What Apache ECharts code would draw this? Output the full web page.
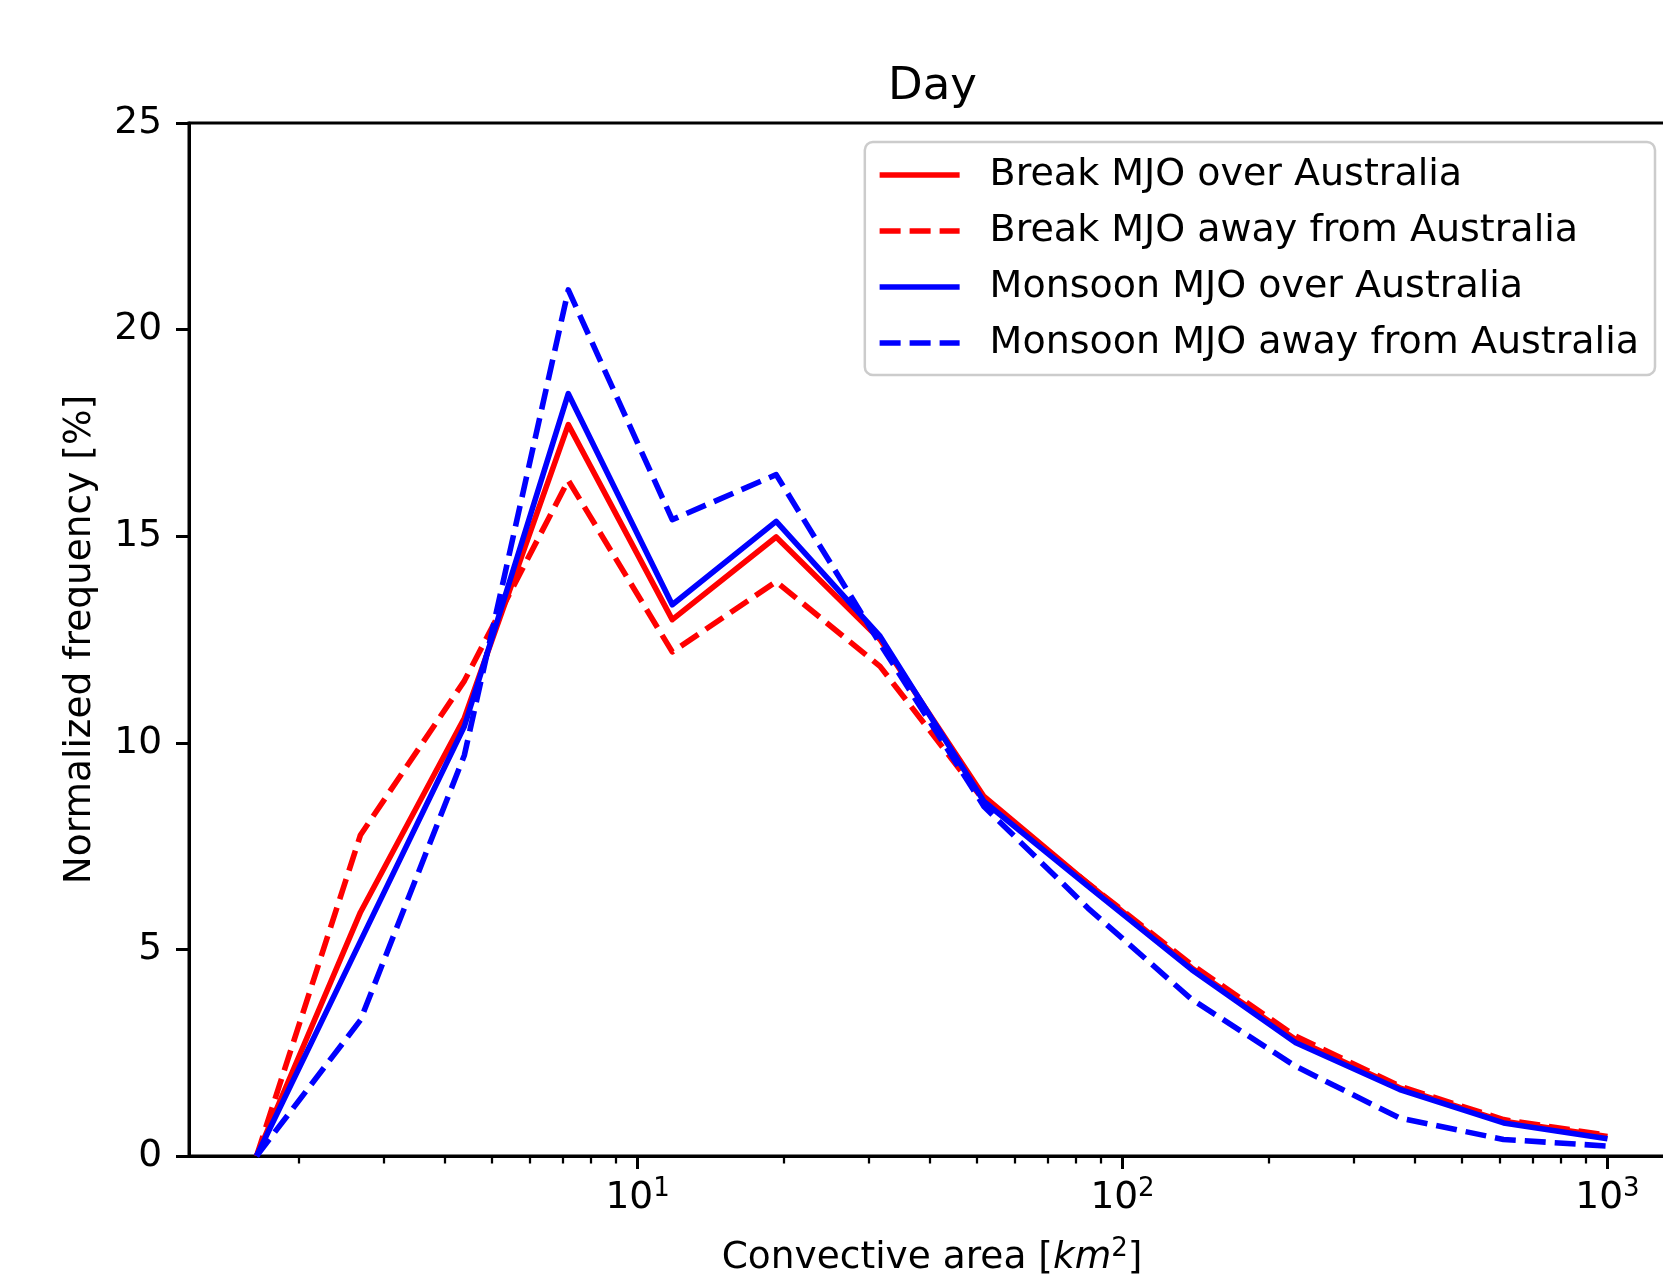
<!DOCTYPE html>
<html>
<head>
<meta charset="utf-8">
<script src="https://cdn.jsdelivr.net/npm/echarts@6/dist/echarts.min.js"></script>
<style>html,body{margin:0;padding:0;background:#fff}#c{width:1663px;height:1280px}</style>
</head>
<body>
<div id="c"></div>
<script>
// Bin centres of convective area [km^2]
const areas = [1.638, 2.683, 4.394, 7.197, 11.79, 19.31, 31.62, 51.79, 84.83, 138.9, 227.6, 372.8, 610.5, 1000];
const breakOver   = [0, 5.9, 10.6, 17.7, 12.98, 14.98, 12.5, 8.7, 6.6, 4.55, 2.82, 1.65, 0.84, 0.47];
const breakAway   = [0, 7.77, 11.5, 16.35, 12.2, 13.9, 11.85, 8.6, 6.6, 4.63, 2.9, 1.69, 0.88, 0.5];
const monsoonOver = [0, 5.2, 10.4, 18.45, 13.34, 15.36, 12.58, 8.58, 6.53, 4.51, 2.74, 1.61, 0.8, 0.42];
const monsoonAway = [0, 3.29, 9.7, 20.96, 15.4, 16.49, 12.4, 8.46, 6.0, 3.79, 2.17, 0.92, 0.4, 0.24];
const seriesNames = ['Break MJO over Australia', 'Break MJO away from Australia', 'Monsoon MJO over Australia', 'Monsoon MJO away from Australia'];
const xMajorTicks = [10, 100, 1000];
const xMinorTicks = [2, 3, 4, 5, 6, 7, 8, 9, 20, 30, 40, 50, 60, 70, 80, 90, 200, 300, 400, 500, 600, 700, 800, 900];
const yTickInterval = 5;

const FONT = 'DejaVu Sans';
const FS = 37.5;
const LW = 5.6;
const DASH = [21, 9];

function pairs(vals) { return areas.map((a, i) => [a, vals[i]]); }
function mkSeries(name, vals, color, dashed) {
  return {
    name: name, type: 'line', xAxisIndex: 0, yAxisIndex: 0,
    data: pairs(vals), symbol: 'none', showSymbol: false,
    itemStyle: { color: color },
    lineStyle: { color: color, width: LW, type: dashed ? DASH : 'solid', join: 'round', cap: 'butt' },
    emphasis: { disabled: true }
  };
}

const chart = echarts.init(document.getElementById('c'), null, { renderer: 'canvas' });
const supStyle = { fontSize: 26, fontFamily: FONT, color: '#000', verticalAlign: 'top', lineHeight: 26 };
chart.setOption({
  animation: false,
  backgroundColor: '#fff',
  title: {
    text: 'Day', left: 888, top: 65, padding: 0,
    textStyle: { fontSize: 45, fontWeight: 'normal', fontFamily: FONT, color: '#000' }
  },
  grid: { left: 189, top: 123, right: -12, bottom: 124, outerBoundsMode: 'none', containLabel: false,
    show: true, borderColor: '#000', borderWidth: 3, backgroundColor: 'transparent' },
  legend: {
    orient: 'vertical', right: 8, top: 142,
    data: seriesNames,
    itemWidth: 80, itemHeight: 20, itemGap: 12,
    padding: [11, 16, 10, 12],
    backgroundColor: 'rgba(255,255,255,0.8)',
    borderColor: '#cccccc', borderWidth: 2.5, borderRadius: 8,
    textStyle: { fontSize: 38, fontFamily: FONT, color: '#000', lineHeight: 44, padding: [0, 0, 0, 25] },
    lineStyle: { width: LW },
    itemStyle: { opacity: 0, borderWidth: 0 },
    selectedMode: false
  },
  xAxis: [
    {
      type: 'log', logBase: 10, min: 1.1885, max: 1378, position: 'bottom',
      name: 'Convective area [{i|km}{s|2}]', nameLocation: 'middle', nameGap: 80,
      nameTextStyle: { fontSize: FS, fontFamily: FONT, color: '#000', lineHeight: 44,
        rich: { i: { fontSize: FS, fontFamily: FONT, fontStyle: 'italic', color: '#000', lineHeight: 44 }, s: supStyle } },
      axisLine: { show: true, onZero: false, lineStyle: { color: '#000', width: 3 } },
      axisTick: { show: true, customValues: xMajorTicks, length: 13, lineStyle: { color: '#000', width: 3 } },
      axisLabel: { show: true, customValues: xMajorTicks, margin: 20,
        formatter: v => '{b|10}{s|' + Math.round(Math.log10(v)) + '}',
        rich: { b: { fontSize: FS, fontFamily: FONT, color: '#000', lineHeight: 44 }, s: supStyle } },
      splitLine: { show: false }, minorTick: { show: false }, minorSplitLine: { show: false }
    },
    {
      type: 'log', logBase: 10, min: 1.1885, max: 1378, position: 'bottom',
      axisLine: { show: false, onZero: false },
      axisTick: { show: true, customValues: xMinorTicks, length: 7.5, lineStyle: { color: '#000', width: 2.25 } },
      axisLabel: { show: false },
      splitLine: { show: false }
    }
  ],
  yAxis: {
    type: 'value', min: 0, max: 25, interval: yTickInterval,
    name: 'Normalized frequency [%]', nameLocation: 'middle', nameGap: 90,
    nameTextStyle: { fontSize: FS, fontFamily: FONT, color: '#000' },
    axisLine: { show: true, onZero: false, lineStyle: { color: '#000', width: 3 } },
    axisTick: { show: true, length: 13, lineStyle: { color: '#000', width: 3 } },
    axisLabel: { fontSize: FS, fontFamily: FONT, color: '#000', margin: 27 },
    splitLine: { show: false }
  },
  series: [
    mkSeries(seriesNames[0], breakOver, '#ff0000', false),
    mkSeries(seriesNames[1], breakAway, '#ff0000', true),
    mkSeries(seriesNames[2], monsoonOver, '#0000ff', false),
    mkSeries(seriesNames[3], monsoonAway, '#0000ff', true)
  ]
});
</script>
</body>
</html>
